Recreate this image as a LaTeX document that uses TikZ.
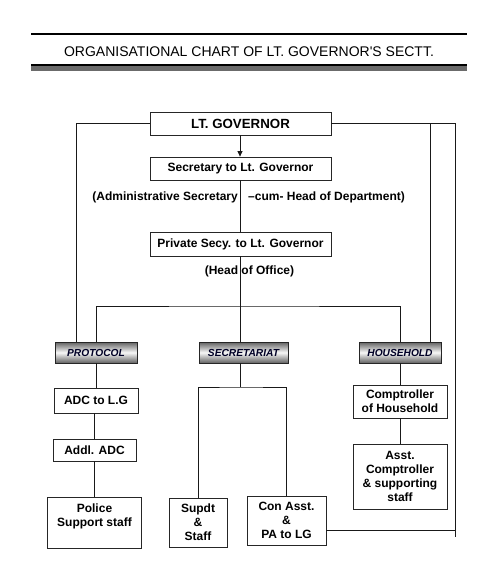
\documentclass[tikz,border=0pt]{standalone}
\usepackage{fontspec}
\setmainfont{Liberation Sans}
\newfontfamily\plainsans{Liberation Sans}
\usetikzlibrary{arrows.meta}
\tikzset{
  box/.style={draw=black!85, line width=0.8pt, rectangle, inner sep=0pt, align=center,
    font=\fontsize{12}{14}\selectfont\bfseries},
  dept/.style={draw=black!85, line width=0.8pt, rectangle, inner sep=0pt,
    top color=black!62, bottom color=black!62, middle color=black!3,
    font=\fontsize{10.2}{12}\selectfont\bfseries\itshape, text=black!85!blue},
  conn/.style={draw=black!90, line width=0.8pt},
  note/.style={inner sep=0pt, font=\fontsize{12}{14}\selectfont\bfseries}
}
\begin{document}
\begin{tikzpicture}[x=1pt,y=-1pt]
\useasboundingbox (0,0) rectangle (503,571);
% title
\draw[line width=2pt] (31,34) -- (467,34);
\node[inner sep=0pt, font=\plainsans\fontsize{14}{16}\selectfont] (title) at (249,52) {ORGANISATIONAL CHART OF LT. GOVERNOR'S SECTT.};
\fill[black] (31,63.5) rectangle (467,66);
\fill[black!58] (31,66) rectangle (467,71);
% main boxes
\node[box, minimum width=181, minimum height=23, font=\fontsize{13.3}{15}\selectfont\bfseries] (lt) at (240.5,123.5) {LT. GOVERNOR};
\node[box, minimum width=181, minimum height=23] (sec) at (240.5,168.5) {Secretary to Lt. Governor};
\node[box, minimum width=181, minimum height=24] (priv) at (240.5,244) {Private Secy. to Lt. Governor};
\node[note, anchor=east] (adm1) at (238,197) {(Administrative Secretary};
\node[note, anchor=west] (adm2) at (248,197) {–cum- Head of Department)};
\node[note] (hoo) at (249.5,271) {(Head of Office)};
% departments
\node[dept, minimum width=82, minimum height=21] (protocol) at (96,352.5) {PROTOCOL};
\node[dept, minimum width=89, minimum height=21] (secretariat) at (243.5,352.5) {SECRETARIAT};
\node[dept, minimum width=82, minimum height=21] (household) at (400,352.5) {HOUSEHOLD};
% protocol chain
\node[box, minimum width=84, minimum height=25] (adc) at (96,400.5) {ADC to L.G};
\node[box, minimum width=83, minimum height=22] (addl) at (94.5,450) {Addl. ADC};
\node[box, minimum width=94, minimum height=51] (police) at (94.5,522.5) {Police\\Support staff\\\mbox{}};
% secretariat chain
\node[box, minimum width=58, minimum height=49] (supdt) at (198,522.5) {Supdt\\\&\\Staff};
\node[box, minimum width=79, minimum height=49] (conasst) at (286.5,520.5) {Con Asst.\\\&\\PA to LG};
% household chain
\node[box, minimum width=94, minimum height=33] (comp) at (400,401.5) {Comptroller\\of Household};
\node[box, minimum width=94, minimum height=65] (asst) at (400,476.5) {Asst.\\Comptroller\\\& supporting\\staff};
% coordinates
\coordinate (j) at (240,306);
\coordinate (sj) at (240,387);
\coordinate (rbot) at (455,537);
\coordinate (cae) at ([yshift=-9.5pt]conasst.east);
% connectors
\draw[conn, -{Triangle[length=5.5pt,width=5pt]}] (lt.south -| j) -- (sec.north -| j);
\draw[conn] (sec.south -| j) -- (priv.north -| j);
\draw[conn] (priv.south -| j) -- (secretariat.north -| j);
\draw[conn] (protocol.north) |- (j) -| (household.north);
\draw[conn] (lt.west) -| ([xshift=-20pt]protocol.north);
\draw[conn] (lt.east) -| ([xshift=30pt]household.north);
\draw[conn] (lt.east) -| (rbot);
\draw[conn] (cae) -- (cae -| rbot);
\draw[conn] (protocol.south) -- (adc.north);
\draw[conn] (adc.south -| addl.north) -- (addl.north);
\draw[conn] (addl.south) -- (police.north);
\draw[conn] (secretariat.south -| sj) -- (sj);
\draw[conn] (supdt.north) |- (sj) -| (conasst.north);
\draw[conn] (household.south) -- (comp.north);
\draw[conn] (comp.south) -- (asst.north);
\end{tikzpicture}
\end{document}
